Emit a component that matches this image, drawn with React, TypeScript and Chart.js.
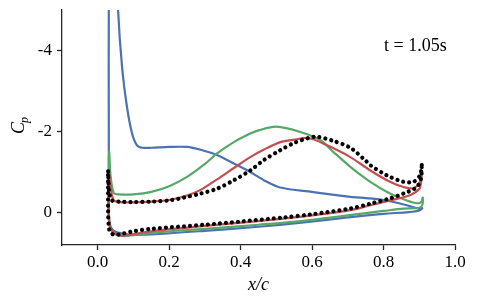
import { useEffect, useRef } from 'react';
import { Chart, registerables } from 'chart.js';

Chart.register(...registerables);

// ---- data (x/c, Cp), each path: TE -> upper surface -> LE -> lower surface -> TE ----
const blueX = [0.91, 0.897, 0.865, 0.818, 0.763, 0.707, 0.6, 0.511, 0.465, 0.427, 0.381, 0.334, 0.288, 0.25, 0.2, 0.15, 0.125, 0.11, 0.096, 0.082, 0.068, 0.057, 0.05, 0.044, 0.035, 0.031, 0.031, 0.031, 0.032, 0.036, 0.045, 0.06, 0.077, 0.1, 0.15, 0.3, 0.45, 0.57, 0.7, 0.8, 0.87, 0.9, 0.91];
const blueCp = [-0.12, -0.1, -0.18, -0.28, -0.35, -0.39, -0.51, -0.62, -0.8, -1.0, -1.21, -1.42, -1.55, -1.62, -1.62, -1.6, -1.6, -1.66, -1.96, -2.6, -3.6, -5, -7, -9, -7, -5, -2, 0, 0.2, 0.35, 0.45, 0.5, 0.53, 0.55, 0.54, 0.45, 0.35, 0.25, 0.12, 0.03, -0.01, -0.05, -0.12];

const greenX = [0.91, 0.906, 0.895, 0.865, 0.818, 0.763, 0.707, 0.659, 0.623, 0.567, 0.5, 0.45, 0.427, 0.381, 0.334, 0.3, 0.25, 0.2, 0.15, 0.1, 0.06, 0.045, 0.036, 0.032, 0.031, 0.031, 0.034, 0.045, 0.06, 0.075, 0.15, 0.3, 0.45, 0.57, 0.7, 0.8, 0.856, 0.9, 0.909, 0.91];
const greenCp = [-0.39, -0.27, -0.23, -0.3, -0.47, -0.76, -1.13, -1.5, -1.79, -1.99, -2.12, -2.03, -1.95, -1.74, -1.46, -1.2, -0.88, -0.65, -0.51, -0.45, -0.45, -0.48, -0.9, -1.5, -0.8, 0.1, 0.35, 0.5, 0.56, 0.58, 0.5, 0.4, 0.3, 0.21, 0.07, -0.04, -0.1, -0.12, -0.2, -0.39];

const redX = [0.907, 0.902, 0.884, 0.856, 0.818, 0.763, 0.707, 0.642, 0.59, 0.55, 0.511, 0.464, 0.427, 0.381, 0.334, 0.288, 0.25, 0.2, 0.15, 0.1, 0.06, 0.045, 0.036, 0.031, 0.03, 0.031, 0.035, 0.045, 0.06, 0.08, 0.15, 0.3, 0.52, 0.6, 0.707, 0.763, 0.818, 0.874, 0.9, 0.905, 0.907];
const redCp = [-0.96, -0.76, -0.6, -0.63, -0.76, -1.04, -1.37, -1.66, -1.84, -1.8, -1.74, -1.55, -1.37, -1.1, -0.82, -0.56, -0.42, -0.31, -0.27, -0.25, -0.26, -0.3, -0.6, -1.05, -0.6, 0.0, 0.35, 0.5, 0.56, 0.56, 0.46, 0.33, 0.15, 0.07, -0.06, -0.18, -0.3, -0.43, -0.58, -0.75, -0.96];

const expX = [0.907, 0.902, 0.884, 0.856, 0.809, 0.763, 0.75, 0.707, 0.659, 0.614, 0.59, 0.55, 0.511, 0.464, 0.427, 0.381, 0.334, 0.288, 0.241, 0.2, 0.15, 0.1, 0.06, 0.04, 0.032, 0.029, 0.029, 0.029, 0.031, 0.036, 0.05, 0.07, 0.1, 0.15, 0.3, 0.4, 0.52, 0.6, 0.707, 0.763, 0.818, 0.856, 0.893, 0.905, 0.907];
const expCp = [-1.17, -0.92, -0.76, -0.76, -0.92, -1.17, -1.28, -1.6, -1.77, -1.87, -1.84, -1.72, -1.54, -1.29, -1.04, -0.8, -0.59, -0.47, -0.37, -0.3, -0.27, -0.26, -0.27, -0.3, -0.5, -1.04, -0.6, -0.07, 0.35, 0.5, 0.55, 0.52, 0.46, 0.4, 0.3, 0.22, 0.12, 0.04, -0.1, -0.22, -0.35, -0.47, -0.63, -0.85, -1.17];

const xTicks = [0.0, 0.2, 0.4, 0.6, 0.8, 1.0];
const yTicks = [-4, -2, 0];
const annotation = 't = 1.05s';

const SERIF = '"Liberation Serif", "Times New Roman", serif';

const pts = (xs: number[], ys: number[]) => xs.map((x, i) => ({ x, y: ys[i] }));

const textPlugin = {
  id: 'texts',
  afterDraw(chart: any) {
    const ctx = chart.ctx as CanvasRenderingContext2D;
    const area = chart.chartArea;
    ctx.save();
    ctx.fillStyle = '#000';
    // x label
    ctx.font = `italic 18px ${SERIF}`;
    ctx.textAlign = 'center';
    ctx.textBaseline = 'middle';
    ctx.fillText('x/c', (area.left + area.right) / 2, 285);
    // annotation
    ctx.font = `18px ${SERIF}`;
    ctx.textAlign = 'left';
    ctx.textBaseline = 'alphabetic';
    ctx.fillText(annotation, 384, 51);
    // y label C_p
    ctx.translate(24, 134);
    ctx.rotate(-Math.PI / 2);
    ctx.font = `italic 18px ${SERIF}`;
    ctx.textAlign = 'left';
    ctx.textBaseline = 'alphabetic';
    ctx.fillText('C', 0, 0);
    const w = ctx.measureText('C').width;
    ctx.font = `italic 12px ${SERIF}`;
    ctx.fillText('p', w - 1, 4);
    ctx.restore();
  },
};

export default function App() {
  const ref = useRef<HTMLCanvasElement | null>(null);
  useEffect(() => {
    if (!ref.current) return;
    const tickFont = { family: SERIF, size: 17 };
    const chart = new Chart(ref.current, {
      type: 'line',
      data: {
        datasets: [
          {
            data: pts(expX, expCp),
            borderColor: '#000',
            borderWidth: 4.2,
            borderDash: [0.01, 6],
            borderCapStyle: 'round',
            pointRadius: 0,
            tension: 0.3,
            fill: false,
          },
          { data: pts(redX, redCp), borderColor: '#C44E52', borderWidth: 2.2, pointRadius: 0, tension: 0.3, fill: false },
          { data: pts(greenX, greenCp), borderColor: '#55A868', borderWidth: 2.2, pointRadius: 0, tension: 0.3, fill: false },
          { data: pts(blueX, blueCp), borderColor: '#4C72B0', borderWidth: 2.2, pointRadius: 0, tension: 0.3, fill: false },
        ] as any,
      },
      options: {
        animation: false,
        responsive: false,
        maintainAspectRatio: false,
        parsing: false as any,
        layout: { padding: { left: 0, right: 23, top: 10, bottom: 0 } },
        plugins: { legend: { display: false }, tooltip: { enabled: false } },
        scales: {
          x: {
            type: 'linear',
            min: -0.1,
            max: 1.0,
            afterBuildTicks: (s: any) => { s.ticks = xTicks.map((v) => ({ value: v })); },
            afterFit: (s: any) => { s.height = 62; s.paddingLeft = 0; s.paddingRight = 0; },
            ticks: { callback: (v: any) => Number(v).toFixed(1), font: tickFont, color: '#000', padding: 2, maxRotation: 0, autoSkip: false },
            grid: { drawOnChartArea: false, drawTicks: true, tickLength: 5, color: '#262626', tickWidth: 1.3 },
            border: { display: true, color: '#262626', width: 1.3 },
          },
          y: {
            type: 'linear',
            reverse: true,
            min: -5,
            max: 0.8,
            afterBuildTicks: (s: any) => { s.ticks = yTicks.map((v) => ({ value: v })); },
            afterFit: (s: any) => { s.width = 62; s.paddingTop = 0; s.paddingBottom = 0; },
            ticks: { callback: (v: any) => String(v), font: tickFont, color: '#000', padding: 5, autoSkip: false },
            grid: { drawOnChartArea: false, drawTicks: true, tickLength: 5, color: '#262626', tickWidth: 1.3 },
            border: { display: true, color: '#262626', width: 1.3 },
          },
        },
      } as any,
      plugins: [textPlugin],
    });
    return () => chart.destroy();
  }, []);
  return (
    <div style={{ position: 'fixed', left: 0, top: 0, width: 478, height: 307, background: '#fff' }}>
      <canvas ref={ref} width={478} height={307} style={{ display: 'block' }} />
    </div>
  );
}
